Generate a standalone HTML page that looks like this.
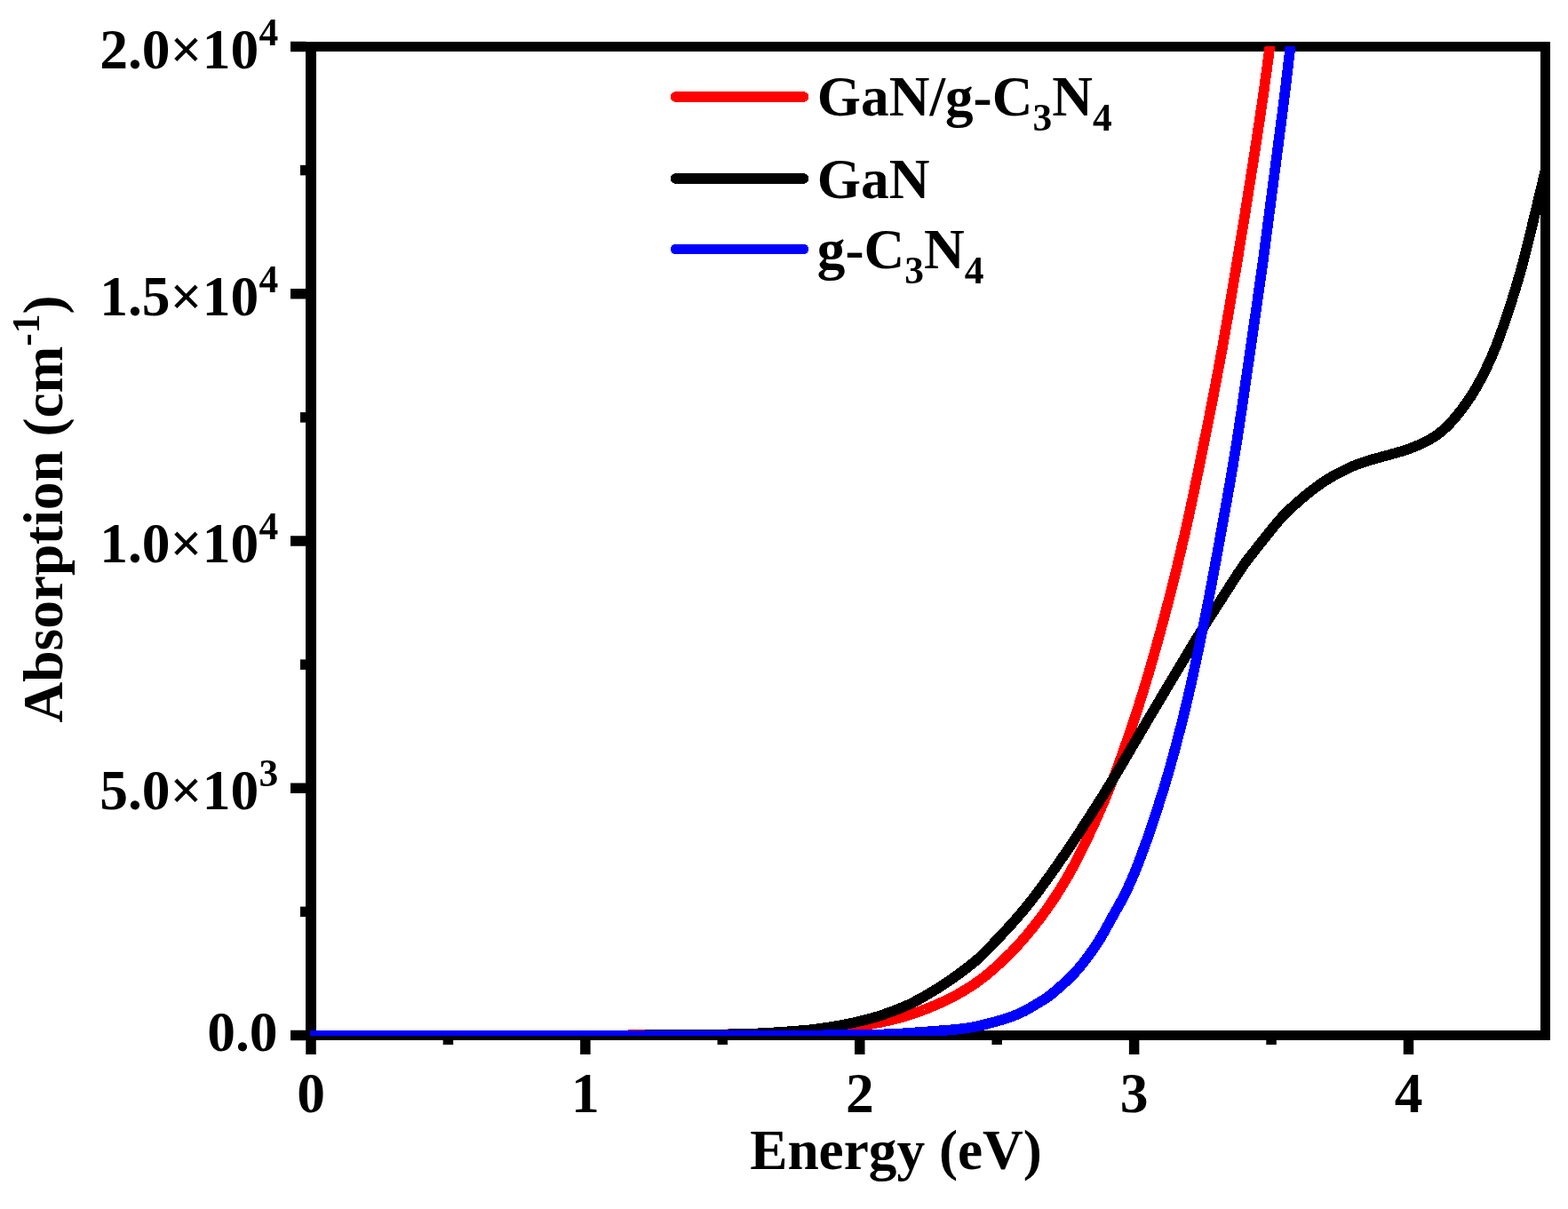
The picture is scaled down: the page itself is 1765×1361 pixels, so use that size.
<!DOCTYPE html>
<html><head><meta charset="utf-8"><title>Absorption vs Energy</title>
<style>
html,body{margin:0;padding:0;background:#fff;}
body{width:1765px;height:1361px;overflow:hidden;}
svg{display:block;}
text{font-family:'Liberation Serif','Times New Roman',serif;font-weight:bold;fill:#000;}
</style></head>
<body>
<svg width="1765" height="1361" viewBox="0 0 1765 1361">
<rect x="0" y="0" width="1765" height="1361" fill="#fff"/>
<defs><clipPath id="pa"><rect x="349" y="52" width="1391" height="1114"/></clipPath></defs>
<g fill="#000" stroke="none">
<rect x="344" y="47" width="1401" height="11"/>
<rect x="344" y="1160" width="1401" height="11"/>
<rect x="344" y="47" width="12" height="1124"/>
<rect x="1734" y="47" width="11" height="1124"/>
<rect x="344.25" y="1171" width="11.5" height="16"/>
<rect x="653.12" y="1171" width="11.5" height="16"/>
<rect x="962.0" y="1171" width="11.5" height="16"/>
<rect x="1270.88" y="1171" width="11.5" height="16"/>
<rect x="1579.75" y="1171" width="11.5" height="16"/>
<rect x="498.69" y="1171" width="11.5" height="5"/>
<rect x="807.56" y="1171" width="11.5" height="5"/>
<rect x="1116.44" y="1171" width="11.5" height="5"/>
<rect x="1425.31" y="1171" width="11.5" height="5"/>
<rect x="327" y="1159.75" width="17" height="11.5"/>
<rect x="327" y="881.5" width="17" height="11.5"/>
<rect x="327" y="603.25" width="17" height="11.5"/>
<rect x="327" y="325.0" width="17" height="11.5"/>
<rect x="327" y="46.75" width="17" height="11.5"/>
<rect x="338" y="1020.62" width="6" height="11.499999999999886"/>
<rect x="338" y="742.38" width="6" height="11.5"/>
<rect x="338" y="464.12" width="6" height="11.5"/>
<rect x="338" y="185.88" width="6" height="11.5"/>
</g>
<g clip-path="url(#pa)" fill="none" stroke-width="11.7" stroke-linejoin="round" shape-rendering="crispEdges">
<path d="M346.39,1165.50 L697.00,1165.49 L738.50,1164.97 L806.49,1164.54 L852.99,1163.83 L887.47,1162.81 L901.96,1162.18 L913.44,1161.51 L925.40,1160.58 L934.85,1159.61 L942.78,1158.58 L959.11,1156.21 L977.89,1153.32 L990.67,1150.94 L1004.33,1147.94 L1015.94,1144.91 L1027.39,1141.34 L1040.56,1136.62 L1052.60,1131.73 L1064.87,1126.10 L1071.13,1122.97 L1076.86,1119.91 L1082.52,1116.71 L1088.09,1113.37 L1093.57,1109.88 L1098.54,1106.52 L1103.00,1103.31 L1107.77,1099.67 L1112.83,1095.59 L1117.78,1091.38 L1128.89,1081.31 L1138.85,1071.47 L1144.67,1065.29 L1150.33,1058.95 L1156.50,1051.72 L1162.84,1043.99 L1168.70,1036.51 L1174.40,1028.92 L1179.66,1021.61 L1185.04,1013.79 L1189.99,1006.27 L1194.78,998.65 L1199.16,991.37 L1203.64,983.56 L1208.44,974.79 L1213.09,965.94 L1222.66,946.69 L1233.18,924.01 L1243.99,899.27 L1251.90,879.82 L1260.01,858.30 L1270.15,829.53 L1281.18,796.32 L1289.50,769.58 L1298.34,739.35 L1308.20,703.69 L1316.71,671.28 L1325.37,636.34 L1333.93,599.83 L1340.72,569.07 L1348.61,531.39 L1359.91,475.52 L1368.62,430.86 L1375.67,393.01 L1382.62,353.62 L1393.03,292.00 L1401.76,238.71 L1410.49,183.39 L1417.82,135.45 L1423.15,98.84 L1428.47,59.19 L1431.02,42.78" stroke="#ff0000"/>
<path d="M346.39,1165.50 L702.00,1165.50 L770.00,1165.11 L820.99,1164.36 L848.98,1163.57 L860.47,1163.02 L881.43,1161.70 L909.34,1159.59 L917.78,1158.63 L937.08,1155.86 L947.40,1153.96 L963.07,1150.75 L972.79,1148.47 L984.36,1145.33 L992.46,1142.78 L1001.88,1139.45 L1011.23,1135.94 L1019.06,1132.66 L1026.75,1129.04 L1034.72,1124.87 L1044.70,1119.15 L1055.78,1112.37 L1065.83,1105.80 L1076.10,1098.69 L1084.20,1092.82 L1090.95,1087.67 L1096.77,1082.94 L1102.41,1078.00 L1107.49,1073.19 L1112.78,1067.87 L1130.64,1048.98 L1138.08,1040.88 L1144.72,1033.40 L1150.57,1026.56 L1156.59,1019.22 L1162.48,1011.76 L1168.84,1003.41 L1183.25,983.60 L1196.96,963.90 L1211.46,942.32 L1227.56,917.60 L1243.37,892.69 L1258.15,868.33 L1293.83,807.52 L1328.11,749.95 L1343.05,725.10 L1361.19,695.76 L1393.11,646.14 L1399.53,636.60 L1406.70,626.98 L1427.48,600.71 L1436.32,589.86 L1441.53,583.78 L1447.00,577.96 L1453.14,572.09 L1464.33,562.11 L1473.14,554.72 L1480.27,549.23 L1488.44,543.47 L1495.97,538.55 L1502.46,534.83 L1518.51,526.72 L1523.06,524.67 L1527.69,522.80 L1534.28,520.43 L1541.89,518.00 L1573.22,509.36 L1579.44,507.48 L1585.60,505.41 L1593.07,502.58 L1600.40,499.38 L1606.65,496.25 L1612.70,492.76 L1617.69,489.44 L1622.05,486.12 L1626.21,482.53 L1630.52,478.37 L1634.95,473.62 L1639.49,468.31 L1644.46,462.04 L1649.53,455.22 L1656.03,445.74 L1658.96,441.09 L1662.00,435.92 L1668.18,424.49 L1674.55,411.46 L1680.10,399.16 L1684.65,388.06 L1689.66,374.45 L1695.67,356.96 L1701.30,339.86 L1706.06,324.59 L1710.86,308.28 L1715.10,292.85 L1721.31,268.12 L1737.13,201.98 L1744.31,172.75" stroke="#000000"/>
<path d="M346.39,1165.50 L896.00,1165.50 L939.00,1165.30 L976.50,1164.84 L1002.99,1164.16 L1021.95,1163.01 L1064.83,1159.83 L1075.79,1158.87 L1085.72,1157.71 L1094.61,1156.36 L1101.96,1154.90 L1117.46,1150.96 L1128.05,1148.00 L1137.54,1144.85 L1145.90,1141.56 L1152.69,1138.40 L1159.28,1134.83 L1172.56,1126.84 L1179.24,1122.47 L1183.61,1119.16 L1189.32,1114.31 L1199.06,1105.70 L1205.54,1099.47 L1209.69,1095.14 L1214.02,1090.30 L1217.88,1085.71 L1221.60,1081.00 L1225.77,1075.38 L1230.65,1068.43 L1235.12,1061.79 L1238.89,1055.89 L1242.94,1049.00 L1250.57,1034.94 L1259.92,1018.41 L1264.22,1010.50 L1269.76,999.30 L1275.60,986.03 L1279.38,976.78 L1283.19,966.99 L1291.24,944.91 L1300.08,918.87 L1309.07,890.78 L1315.74,868.25 L1322.66,843.18 L1330.06,814.63 L1336.82,786.94 L1342.46,762.07 L1348.75,732.74 L1356.40,695.52 L1362.35,665.10 L1370.33,622.33 L1381.64,559.85 L1387.62,525.36 L1392.70,494.28 L1397.62,461.65 L1414.69,343.88 L1422.34,289.41 L1443.93,123.81 L1447.25,97.02 L1453.65,42.79" stroke="#0000ff"/>
</g>
<text x="350.0" y="1252" text-anchor="middle" font-size="63.5">0</text>
<text x="658.9" y="1252" text-anchor="middle" font-size="63.5">1</text>
<text x="967.8" y="1252" text-anchor="middle" font-size="63.5">2</text>
<text x="1276.6" y="1252" text-anchor="middle" font-size="63.5">3</text>
<text x="1585.5" y="1252" text-anchor="middle" font-size="63.5">4</text>
<text x="291.3" y="76.5" text-anchor="end" font-size="63.5">2.0×10</text>
<text x="291.4" y="50.5" font-size="43.5">4</text>
<text x="291.3" y="354.8" text-anchor="end" font-size="63.5">1.5×10</text>
<text x="291.4" y="328.8" font-size="43.5">4</text>
<text x="291.3" y="633.0" text-anchor="end" font-size="63.5">1.0×10</text>
<text x="291.4" y="607.0" font-size="43.5">4</text>
<text x="291.3" y="911.2" text-anchor="end" font-size="63.5">5.0×10</text>
<text x="291.4" y="885.2" font-size="43.5">3</text>
<text x="312.5" y="1183.3" text-anchor="end" font-size="63.5">0.0</text>
<text x="844.2" y="1315.7" font-size="63.3">Energy (eV)</text>
<g transform="translate(69.7,813.4) rotate(-90)"><text x="0" y="0" font-size="63.3">Absorption (cm<tspan font-size="43.5" dy="-25.6">-1</tspan><tspan dy="25.6">)</tspan></text></g>
<line x1="760.5" y1="109" x2="904.5" y2="109" stroke="#ff0000" stroke-width="11.5" stroke-linecap="round" shape-rendering="crispEdges"/>
<line x1="760.5" y1="201" x2="904.5" y2="201" stroke="#000000" stroke-width="11.5" stroke-linecap="round" shape-rendering="crispEdges"/>
<line x1="760.5" y1="280.5" x2="904.5" y2="280.5" stroke="#0000ff" stroke-width="11.5" stroke-linecap="round" shape-rendering="crispEdges"/>
<text x="919.8" y="130.3" font-size="63.3">GaN/g-C<tspan font-size="43.5" dy="16.7">3</tspan><tspan dy="-16.7">N</tspan><tspan font-size="43.5" dy="16.7">4</tspan></text>
<text x="919.8" y="222.7" font-size="63.3">GaN</text>
<text x="919.8" y="301.8" font-size="63.3">g-C<tspan font-size="43.5" dy="16.7">3</tspan><tspan dy="-16.7">N</tspan><tspan font-size="43.5" dy="16.7">4</tspan></text>
</svg>
</body></html>
